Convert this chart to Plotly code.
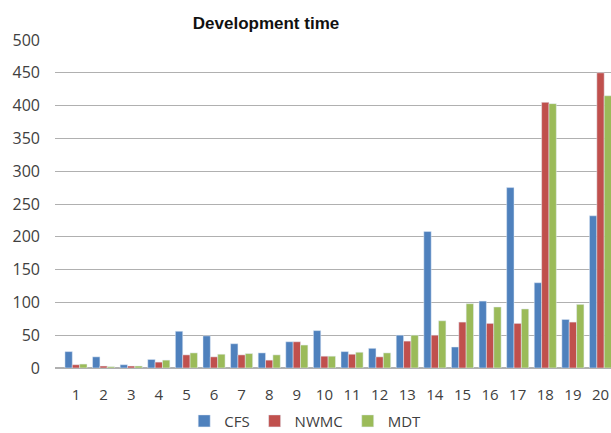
import plotly.graph_objects as go

categories = [str(i) for i in range(1, 21)]
cfs = [25, 17, 5, 13, 56, 49, 37, 23, 40, 57, 25, 30, 50, 208, 32, 102, 275, 130, 74, 232]
nwmc = [5, 3, 3, 9, 20, 17, 20, 12, 40, 18, 21, 17, 41, 50, 70, 68, 68, 405, 70, 450]
mdt = [6, 2, 3, 12, 23, 21, 22, 20, 35, 18, 24, 23, 50, 72, 98, 93, 90, 403, 97, 415]
y_ticks = [0, 50, 100, 150, 200, 250, 300, 350, 400, 450, 500]

fig = go.Figure()
fig.add_bar(x=categories, y=cfs, name="CFS", marker_color="#4F81BD")
fig.add_bar(x=categories, y=nwmc, name="NWMC", marker_color="#C0504D")
fig.add_bar(x=categories, y=mdt, name="MDT", marker_color="#9BBB59")

fig.update_layout(
    width=611, height=433,
    margin=dict(l=55, r=0, t=40, b=65, autoexpand=False),
    paper_bgcolor="white", plot_bgcolor="white",
    barmode="group", bargap=0.2, bargroupgap=0,
    title=dict(text="<b>Development time</b>", x=266 / 611, xanchor="center", y=1 - 23 / 433, yanchor="middle",
               font=dict(family="Liberation Sans", size=17, color="#111111")),
    font=dict(family="Open Sans", size=15, color="#404040"),
    xaxis=dict(type="category", range=[-0.76, 19.38], showgrid=False, ticks="",
               showline=False, automargin=False, ticklabelstandoff=16,
               tickfont=dict(size=15, color="#404040")),
    yaxis=dict(range=[0, 500], tickvals=y_ticks, showgrid=True, gridcolor="#B0B0B0",
               gridwidth=1, zeroline=True, zerolinecolor="#B0B0B0", ticks="", automargin=False,
               tickfont=dict(size=16, color="#404040"), ticklabelstandoff=14),
    legend=dict(orientation="h", x=0.45, xanchor="center", y=-0.162, yanchor="middle",
                font=dict(size=15, color="#404040"), itemwidth=30, traceorder="normal"),
)

fig.write_html("out.html", config={"displayModeBar": False},
               post_script="document.body.style.margin='0px';document.body.style.overflow='hidden';")
